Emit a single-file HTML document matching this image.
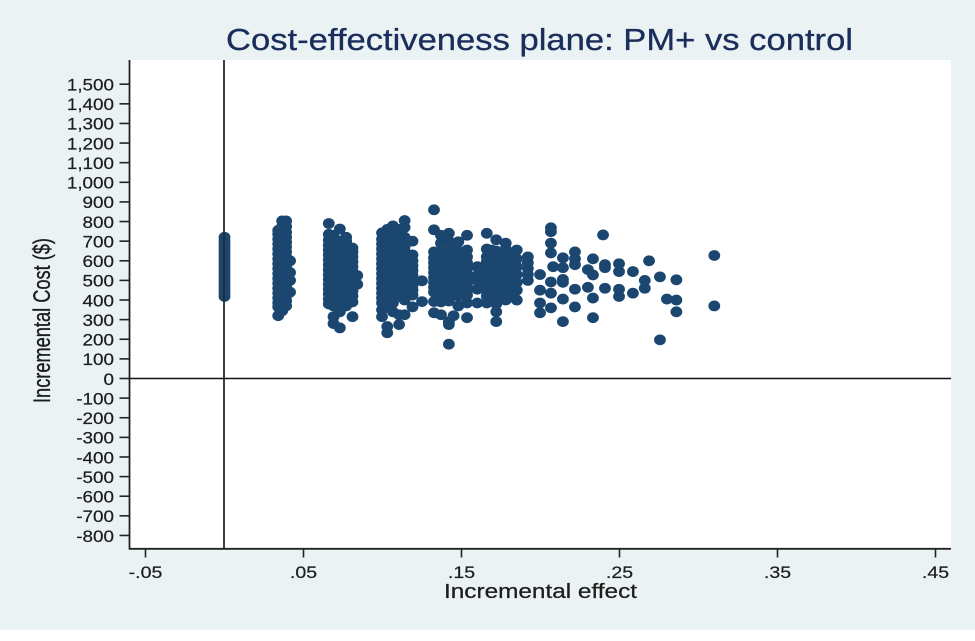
<!DOCTYPE html>
<html lang="en">
<head>
<meta charset="utf-8">
<title>Cost-effectiveness plane: PM+ vs control</title>
<style>
html,body{margin:0;padding:0;background:#fff;width:975px;height:641px;overflow:hidden}
svg{display:block}
text{font-family:"Liberation Sans",Arial,sans-serif}
</style>
</head>
<body>
<svg id="chart" xmlns="http://www.w3.org/2000/svg" width="975" height="641" viewBox="0 0 975 641">
<rect x="0" y="0" width="975" height="630" fill="#eaf2f3"/>
<rect x="130" y="60" width="821" height="488.5" fill="#ffffff"/>
<g id="points"></g>
<g id="axes"></g>
<text x="226" y="50" font-size="30.5" fill="#1b2d5b" stroke="#1b2d5b" stroke-width="0.3" textLength="627" lengthAdjust="spacingAndGlyphs">Cost-effectiveness plane: PM+ vs control</text>
<text x="444" y="598" font-size="20" fill="#1c1c1c" stroke="#1c1c1c" stroke-width="0.25" textLength="193" lengthAdjust="spacingAndGlyphs">Incremental effect</text>
<text transform="translate(50,403) scale(1.3,1) rotate(-90)" font-size="18.5" fill="#1c1c1c" stroke="#1c1c1c" stroke-width="0.25" textLength="165" lengthAdjust="spacingAndGlyphs">Incremental Cost ($)</text>
</svg>
<script>
const xTickValues = [-0.05, 0.05, 0.15, 0.25, 0.35, 0.45];
const xTickLabels = ["-.05", ".05", ".15", ".25", ".35", ".45"];
const yTickValues = [1500, 1400, 1300, 1200, 1100, 1000, 900, 800, 700, 600, 500, 400, 300, 200, 100, 0, -100, -200, -300, -400, -500, -600, -700, -800];
const yTickLabels = ["1,500", "1,400", "1,300", "1,200", "1,100", "1,000", "900", "800", "700", "600", "500", "400", "300", "200", "100", "0", "-100", "-200", "-300", "-400", "-500", "-600", "-700", "-800"];
const refEffect = 0;
const refCost = 0;
const effectLevels = [
  0, 0.034, 0.0365, 0.039, 0.0415,
  0.066, 0.069, 0.073, 0.077, 0.081, 0.084,
  0.0997, 0.103, 0.1066, 0.1105, 0.114, 0.119, 0.125,
  0.1326, 0.137, 0.142, 0.145, 0.148, 0.1535, 0.16, 0.166, 0.169, 0.172, 0.175, 0.178, 0.1815, 0.185, 0.192,
  0.1997, 0.2066, 0.208, 0.2142, 0.2218, 0.230, 0.2332, 0.2396, 0.2408,
  0.2497, 0.2585, 0.266, 0.2687, 0.2756, 0.280, 0.286, 0.310
];
const costsAtLevel = [
  [418, 432, 447, 462, 477, 492, 507, 522, 537, 552, 567, 582, 597, 612, 627, 642, 657, 672, 687, 702, 720],
  [320, 365, 385, 410, 435, 460, 485, 510, 535, 560, 585, 610, 635, 660, 685, 710, 735, 755],
  [345, 375, 400, 425, 450, 475, 500, 525, 550, 575, 600, 625, 650, 675, 700, 725, 750, 775, 803],
  [370, 395, 420, 445, 470, 495, 520, 545, 570, 595, 620, 645, 670, 695, 720, 745, 775, 803],
  [440, 500, 540, 600],
  [380, 405, 430, 455, 480, 505, 530, 555, 580, 605, 630, 655, 680, 705, 735, 790],
  [280, 315, 370, 395, 420, 445, 470, 495, 520, 545, 570, 595, 620, 645, 670, 695, 730],
  [258, 340, 375, 400, 425, 450, 475, 500, 525, 550, 575, 600, 625, 650, 675, 700, 762],
  [370, 400, 425, 450, 475, 500, 525, 550, 575, 600, 625, 650, 675, 700, 720],
  [315, 390, 420, 445, 470, 495, 520, 545, 570, 595, 620, 645, 665],
  [480, 525],
  [315, 350, 385, 410, 435, 460, 485, 510, 535, 560, 585, 610, 635, 660, 685, 710, 742],
  [233, 265, 365, 395, 420, 445, 470, 495, 520, 545, 570, 595, 620, 645, 670, 695, 720, 760],
  [340, 385, 420, 445, 470, 495, 520, 545, 570, 595, 620, 645, 670, 695, 735, 778],
  [275, 325, 420, 445, 470, 495, 520, 545, 570, 595, 620, 645, 670, 695, 720, 760],
  [325, 400, 445, 470, 495, 520, 545, 570, 595, 620, 645, 670, 695, 720, 770, 805],
  [365, 425, 450, 475, 500, 525, 550, 575, 600, 630, 700],
  [392, 498],
  [335, 392, 440, 465, 490, 515, 540, 565, 590, 615, 645, 758, 860],
  [325, 390, 415, 440, 465, 490, 515, 540, 565, 590, 615, 645, 690, 730],
  [175, 275, 290, 395, 425, 450, 475, 500, 525, 550, 575, 600, 625, 650, 700, 740],
  [320, 435, 460, 485, 510, 535, 560, 585, 610, 635, 660],
  [370, 420, 445, 470, 495, 520, 545, 570, 595, 620, 650, 697],
  [310, 385, 425, 450, 480, 510, 535, 560, 590, 620, 655, 730],
  [385, 455, 500, 525, 570],
  [385, 420, 445, 470, 495, 520, 545, 570, 595, 620, 660, 740],
  [405, 445, 470, 495, 520, 545, 570, 595, 625, 655],
  [290, 340, 380, 420, 445, 470, 495, 520, 545, 570, 595, 620, 650, 707],
  [410, 440, 465, 490, 515, 540, 565, 600, 640],
  [400, 430, 455, 480, 505, 530, 555, 630, 660, 690],
  [420, 450, 480, 505, 530, 555, 580, 610, 640],
  [400, 450, 490, 530, 570, 610, 655],
  [500, 530, 560, 590, 620],
  [335, 385, 450, 530],
  [360, 435, 492, 640, 690, 748, 768],
  [570],
  [290, 405, 490, 505, 565, 615],
  [365, 455, 580, 610, 645],
  [465, 555],
  [310, 410, 528, 610],
  [732],
  [460, 565, 580],
  [418, 455, 545, 585],
  [435, 545],
  [460, 500],
  [600],
  [197, 518],
  [405],
  [340, 400, 503],
  [370, 627]
];

const xAt = function (effect) { return 224.5 + (effect - refEffect) * 1580; };
const yAt = function (cost) { return 378.5 - (cost - refCost) * 0.1962; };
const NS = 'http://www.w3.org/2000/svg';
const pointsGroup = document.getElementById('points');
const axesGroup = document.getElementById('axes');

function mk(tag, attrs, parent) {
  const el = document.createElementNS(NS, tag);
  for (const k in attrs) { el.setAttribute(k, attrs[k]); }
  parent.appendChild(el);
  return el;
}

effectLevels.forEach(function (effect, i) {
  costsAtLevel[i].forEach(function (cost) {
    const dot = mk('ellipse', { cx: xAt(effect), cy: yAt(cost), rx: 5.9, ry: 5.4, fill: '#1a466f' }, pointsGroup);
    
    
  });
});

const yAxisLine = mk('line', { x1: 129.5, x2: 129.5, y1: 60, y2: 549.5, stroke: '#222', 'stroke-width': 1.8 }, axesGroup);



const xAxisLine = mk('line', { x1: 129, x2: 951, y1: 548.8, y2: 548.8, stroke: '#222', 'stroke-width': 1.8 }, axesGroup);



const refV = mk('line', { x1: xAt(refEffect) - 0.5, x2: xAt(refEffect) - 0.5, y1: 60, y2: 548, stroke: '#2a2a2a', 'stroke-width': 1.8 }, axesGroup);



const refH = mk('line', { x1: 129.5, x2: 951, y1: yAt(refCost), y2: yAt(refCost), stroke: '#111', 'stroke-width': 1.6 }, axesGroup);



yTickValues.forEach(function (value, i) {
  const tick = mk('line', { x1: 119.5, x2: 129.5, y1: yAt(value), y2: yAt(value), stroke: '#222', 'stroke-width': 1.6 }, axesGroup);
  
  
  const label = mk('text', { transform: 'translate(114,' + (yAt(value) + 6.3) + ') scale(1.11,1)', 'text-anchor': 'end', 'font-size': 17, fill: '#1c1c1c', stroke: '#1c1c1c', 'stroke-width': 0.2 }, axesGroup);
  label.textContent = yTickLabels[i];
  
  
});

xTickValues.forEach(function (value, i) {
  const tick = mk('line', { x1: xAt(value), x2: xAt(value), y1: 549, y2: 557.5, stroke: '#222', 'stroke-width': 1.6 }, axesGroup);
  
  
  const label = mk('text', { transform: 'translate(' + xAt(value) + ',578) scale(1.15,1)', 'text-anchor': 'middle', 'font-size': 17, fill: '#1c1c1c', stroke: '#1c1c1c', 'stroke-width': 0.2 }, axesGroup);
  label.textContent = xTickLabels[i];
  
  
});
</script>
</body>
</html>
